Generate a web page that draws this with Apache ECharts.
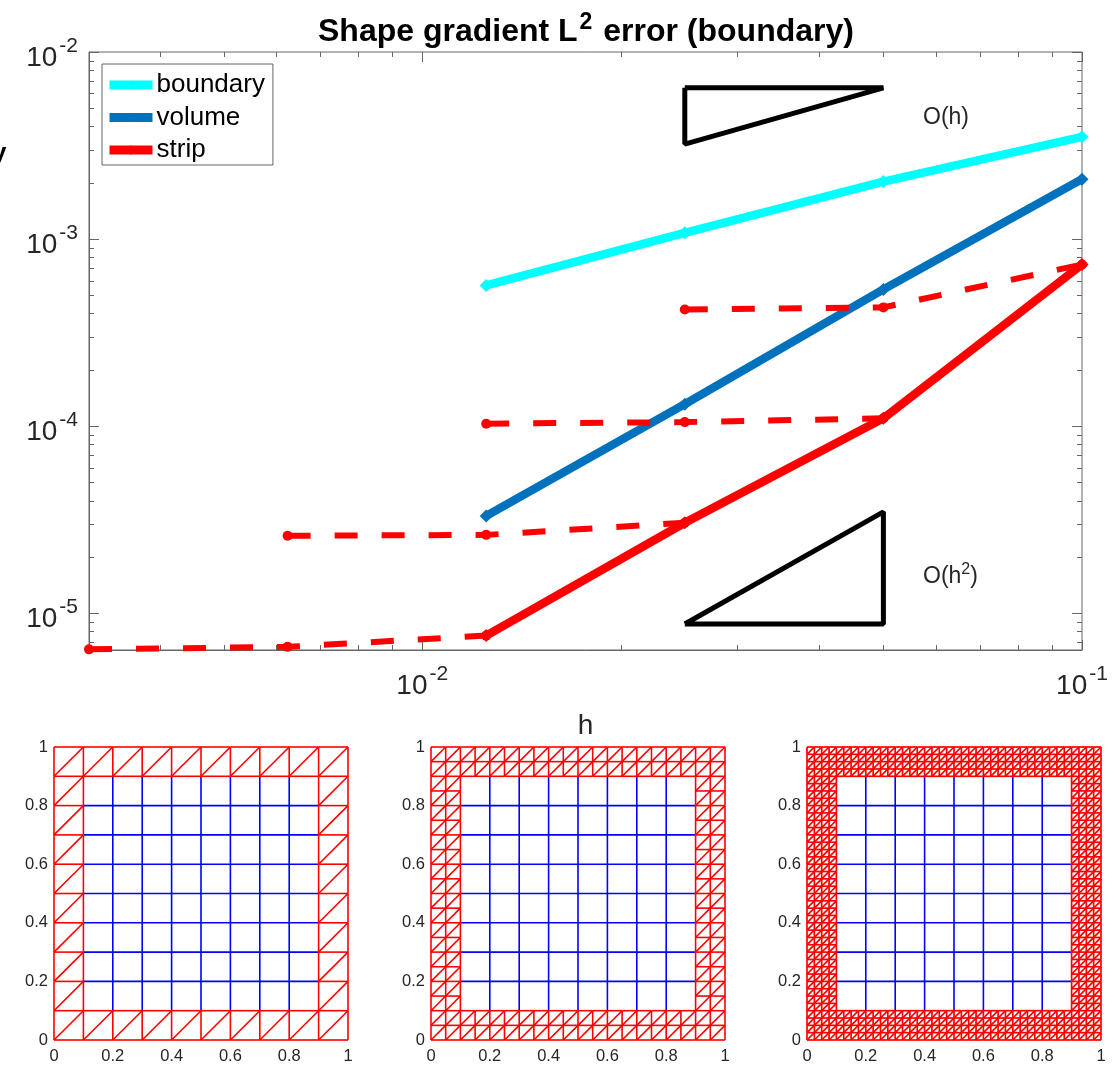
<!DOCTYPE html>
<html><head><meta charset="utf-8">
<style>html,body{margin:0;padding:0;background:#fff}#c{width:1116px;height:1065px}</style>
<script src="https://cdn.jsdelivr.net/npm/echarts@6/dist/echarts.min.js"></script>
</head><body><div id="c"></div>
<script>
const hValues = [0.1, 0.05, 0.025, 0.0125];
const boundaryErr = [3.52e-3, 2.03e-3, 1.08e-3, 5.65e-4];
const volumeErr = [2.09e-3, 5.38e-4, 1.31e-4, 3.31e-5];
const stripErr = [7.31e-4, 1.10e-4, 3.04e-5, 7.58e-6];
const dashA = [[0.025, 4.2e-4], [0.05, 4.31e-4], [0.1, 7.31e-4]];
const dashB = [[0.0125, 1.03e-4], [0.025, 1.05e-4], [0.05, 1.10e-4]];
const dashC = [[0.00625, 2.59e-5], [0.0125, 2.62e-5], [0.025, 3.04e-5]];
const dashD = [[0.003125, 6.4e-6], [0.00625, 6.6e-6], [0.0125, 7.58e-6]];
const triH = [[0.025, 6.43e-3], [0.05, 6.43e-3], [0.025, 3.22e-3], [0.025, 6.43e-3]];
const triH2 = [[0.025, 8.75e-6], [0.05, 3.48e-5], [0.05, 8.75e-6], [0.025, 8.75e-6]];
const xMajor = [0.01, 0.1];
const xMinor = [0.004,0.005,0.006,0.007,0.008,0.009,0.02,0.03,0.04,0.05,0.06,0.07,0.08,0.09];
const yMajor = [1e-5, 1e-4, 1e-3, 1e-2];
const yMinor = [7e-6,8e-6,9e-6,2e-5,3e-5,4e-5,5e-5,6e-5,7e-5,8e-5,9e-5,2e-4,3e-4,4e-4,5e-4,6e-4,7e-4,8e-4,9e-4,2e-3,3e-3,4e-3,5e-3,6e-3,7e-3,8e-3,9e-3];
const xMin = 0.003125, xMax = 0.1, yMin = 6.35e-6, yMax = 1e-2;
const meshDivisions = [10, 20, 40];   // cells per side in the boundary strip
const coarseDivisions = 10;           // cells per side in the inner grid

const AXIS = '#666666', TXT = '#262626', RED = '#ff0000', CY = '#00ffff', BL = '#0072bd', MB = '#0000ff';
const FONT = '"Liberation Sans", Arial, sans-serif';

function expLabel(v){ return '{b|10}{s|' + Math.round(Math.log10(v)) + '}'; }
const expRich = {
  b:{fontFamily:FONT,fontSize:28,color:TXT,verticalAlign:'bottom',lineHeight:30},
  s:{fontFamily:FONT,fontSize:21,color:TXT,verticalAlign:'bottom',lineHeight:30,padding:[0,0,15,2]}
};

function tickItem(isX){
  return function(params, api){
    const v = api.value(0), len = api.value(1);
    const a = isX ? api.coord([v, yMin]) : api.coord([xMin, v]);
    const b = isX ? api.coord([v, yMax]) : api.coord([xMax, v]);
    const sty = {stroke:AXIS, lineWidth:1};
    if (isX) {
      const x = Math.round(a[0]) + 0.5;
      return {type:'group',children:[
        {type:'line',shape:{x1:x,y1:a[1],x2:x,y2:a[1]-len},style:sty},
        {type:'line',shape:{x1:x,y1:b[1],x2:x,y2:b[1]+len},style:sty}]};
    }
    const y = Math.round(a[1]) + 0.5;
    return {type:'group',children:[
      {type:'line',shape:{x1:a[0],y1:y,x2:a[0]+len,y2:y},style:sty},
      {type:'line',shape:{x1:b[0],y1:y,x2:b[0]-len,y2:y},style:sty}]};
  };
}
function segItem(color, w){
  return function(params, api){
    const a = api.coord([api.value(0), api.value(1)]), b = api.coord([api.value(2), api.value(3)]);
    return {type:'line',shape:{x1:a[0],y1:a[1],x2:b[0],y2:b[1]},style:{stroke:color,lineWidth:w}};
  };
}
function blueSegments(){
  const n = coarseDivisions, out = [];
  for (let i = 2; i <= n-2; i++) {
    out.push([i/n, 1/n, i/n, (n-1)/n]);
    out.push([1/n, i/n, (n-1)/n, i/n]);
  }
  return out;
}
function redSegments(n){
  const seen = new Set(), out = [], lo = n/10, hi = n - n/10;
  const add = (a,b,c,d) => { const k = a+','+b+','+c+','+d; if(!seen.has(k)){seen.add(k); out.push([a/n,b/n,c/n,d/n]);} };
  for (let i = 0; i < n; i++) for (let j = 0; j < n; j++) {
    if (i >= lo && i < hi && j >= lo && j < hi) continue;
    add(i,j,i+1,j); add(i,j+1,i+1,j+1); add(i,j,i,j+1); add(i+1,j,i+1,j+1); add(i,j,i+1,j+1);
  }
  return out;
}

const panelLeft = [54, 431, 807];
const grids = [{left:89, top:52, width:993, height:598, show:true, borderColor:AXIS, borderWidth:1, backgroundColor:'#fff', outerBoundsMode:'none'}];
const xAxes = [{type:'log', gridIndex:0, min:xMin, max:xMax, logBase:10, splitLine:{show:false},
  axisLine:{show:true,lineStyle:{color:AXIS,width:1}}, axisTick:{show:false}, minorTick:{show:false}, minorSplitLine:{show:false},
  name:'h', nameLocation:'middle', nameGap:62, nameTextStyle:{fontFamily:FONT,fontSize:28,color:TXT},
  axisLabel:{show:true,customValues:xMajor,margin:20,formatter:expLabel,rich:expRich,hideOverlap:false,showMinLabel:true,showMaxLabel:true}}];
const yAxes = [{type:'log', gridIndex:0, min:yMin, max:yMax, logBase:10, splitLine:{show:false},
  axisLine:{show:true,lineStyle:{color:AXIS,width:1}}, axisTick:{show:false}, minorTick:{show:false}, minorSplitLine:{show:false},
  axisLabel:{show:true,customValues:yMajor,margin:11,padding:[10,0,0,0],formatter:expLabel,rich:expRich,hideOverlap:false,showMinLabel:true,showMaxLabel:true}}];

const lineBase = {type:'line', xAxisIndex:0, yAxisIndex:0, clip:false, animation:false, silent:true};
const series = [
  {...lineBase, name:'triH', data:triH, symbol:'none', lineStyle:{color:'#000',width:5,join:'bevel'}, itemStyle:{color:'#000'}},
  {...lineBase, name:'triH2', data:triH2, symbol:'none', lineStyle:{color:'#000',width:5,join:'bevel'}, itemStyle:{color:'#000'}},
  {type:'custom', xAxisIndex:0, yAxisIndex:0, silent:true, animation:false, clip:false, renderItem:tickItem(true),
    data:xMajor.map(v=>[v,10]).concat(xMinor.map(v=>[v,5])), encode:{x:0}},
  {type:'custom', xAxisIndex:0, yAxisIndex:0, silent:true, animation:false, clip:false, renderItem:tickItem(false),
    data:yMajor.map(v=>[v,10]).concat(yMinor.map(v=>[v,5])), encode:{y:0}},
  {...lineBase, name:'boundary', data:hValues.map((h,i)=>[h,boundaryErr[i]]), symbol:'diamond', symbolSize:13, lineStyle:{color:CY,width:8.5}, itemStyle:{color:CY}},
  {...lineBase, name:'volume', data:hValues.map((h,i)=>[h,volumeErr[i]]), symbol:'diamond', symbolSize:13, lineStyle:{color:BL,width:8.5}, itemStyle:{color:BL}},
  {...lineBase, name:'strip', data:hValues.map((h,i)=>[h,stripErr[i]]), symbol:'diamond', symbolSize:13, lineStyle:{color:RED,width:8.5}, itemStyle:{color:RED}}
];
[dashA,dashB,dashC,dashD].forEach((d,i)=>series.push({...lineBase, name:'dash'+i, data:d, symbol:'circle', symbolSize:10,
  lineStyle:{color:RED,width:6,type:[23,24]}, itemStyle:{color:RED}}));

meshDivisions.forEach((n,p)=>{
  const g = p+1;
  grids.push({left:panelLeft[p], top:747, width:294, height:293, outerBoundsMode:'none'});
  const axisCommon = {type:'value', gridIndex:g, min:0, max:1, interval:0.2, splitLine:{show:false},
    axisLine:{show:false}, axisTick:{show:false}};
  const lab = {fontFamily:FONT,fontSize:16.5,color:TXT,formatter:v=>String(+v.toFixed(1)),showMinLabel:true,showMaxLabel:true};
  xAxes.push({...axisCommon, axisLabel:{...lab,margin:8}});
  yAxes.push({...axisCommon, axisLabel:{...lab,margin:6}});
  series.push({type:'custom',xAxisIndex:g,yAxisIndex:g,silent:true,animation:false,progressive:0,clip:false,renderItem:segItem(MB,1.6),data:blueSegments(),encode:{x:[0,2],y:[1,3]}});
  series.push({type:'custom',xAxisIndex:g,yAxisIndex:g,silent:true,animation:false,progressive:0,clip:false,renderItem:segItem(RED,p===2?1.7:1.6),data:redSegments(n),encode:{x:[0,2],y:[1,3]}});
});

const chart = echarts.init(document.getElementById('c'), null, {renderer:'canvas'});
chart.setOption({
  animation:false,
  backgroundColor:'#fff',
  title:{left:313, top:3, text:'{t|Shape gradient L}{u|2}{t| error (boundary)}',
    textStyle:{rich:{
      t:{fontFamily:FONT,fontSize:32,fontWeight:'bold',color:'#000',verticalAlign:'bottom',lineHeight:40},
      u:{fontFamily:FONT,fontSize:23,fontWeight:'bold',color:'#000',verticalAlign:'bottom',lineHeight:40,padding:[0,2,14,2]}
    }}},
  legend:{left:102, top:64, orient:'vertical', data:['boundary','volume','strip'], itemWidth:43, itemHeight:12, itemGap:4.5,
    padding:[7,8,1,3], borderColor:AXIS, borderWidth:1, backgroundColor:'#fff', selectedMode:false,
    lineStyle:{width:9},
    textStyle:{fontFamily:FONT,fontSize:26,color:'#000',lineHeight:28,padding:[0,0,0,-1]}},
  grid:grids, xAxis:xAxes, yAxis:yAxes, series:series,
  graphic:[
    {type:'text',left:923,top:106,style:{text:'O(h)',font:'23px '+FONT,fill:TXT}},
    {type:'text',left:923,top:562,style:{text:'{a|O(h}{b|2}{a|)}',rich:{
      a:{font:'23px '+FONT,fill:TXT,color:TXT,verticalAlign:'bottom',lineHeight:30},
      b:{font:'16px '+FONT,fill:TXT,color:TXT,verticalAlign:'bottom',lineHeight:30,padding:[0,0,10,0]}}}},
    {type:'text',x:-8,y:141,style:{text:'y',font:'bold 26px '+FONT,fill:'#000'}}
  ]
});
</script></body></html>
